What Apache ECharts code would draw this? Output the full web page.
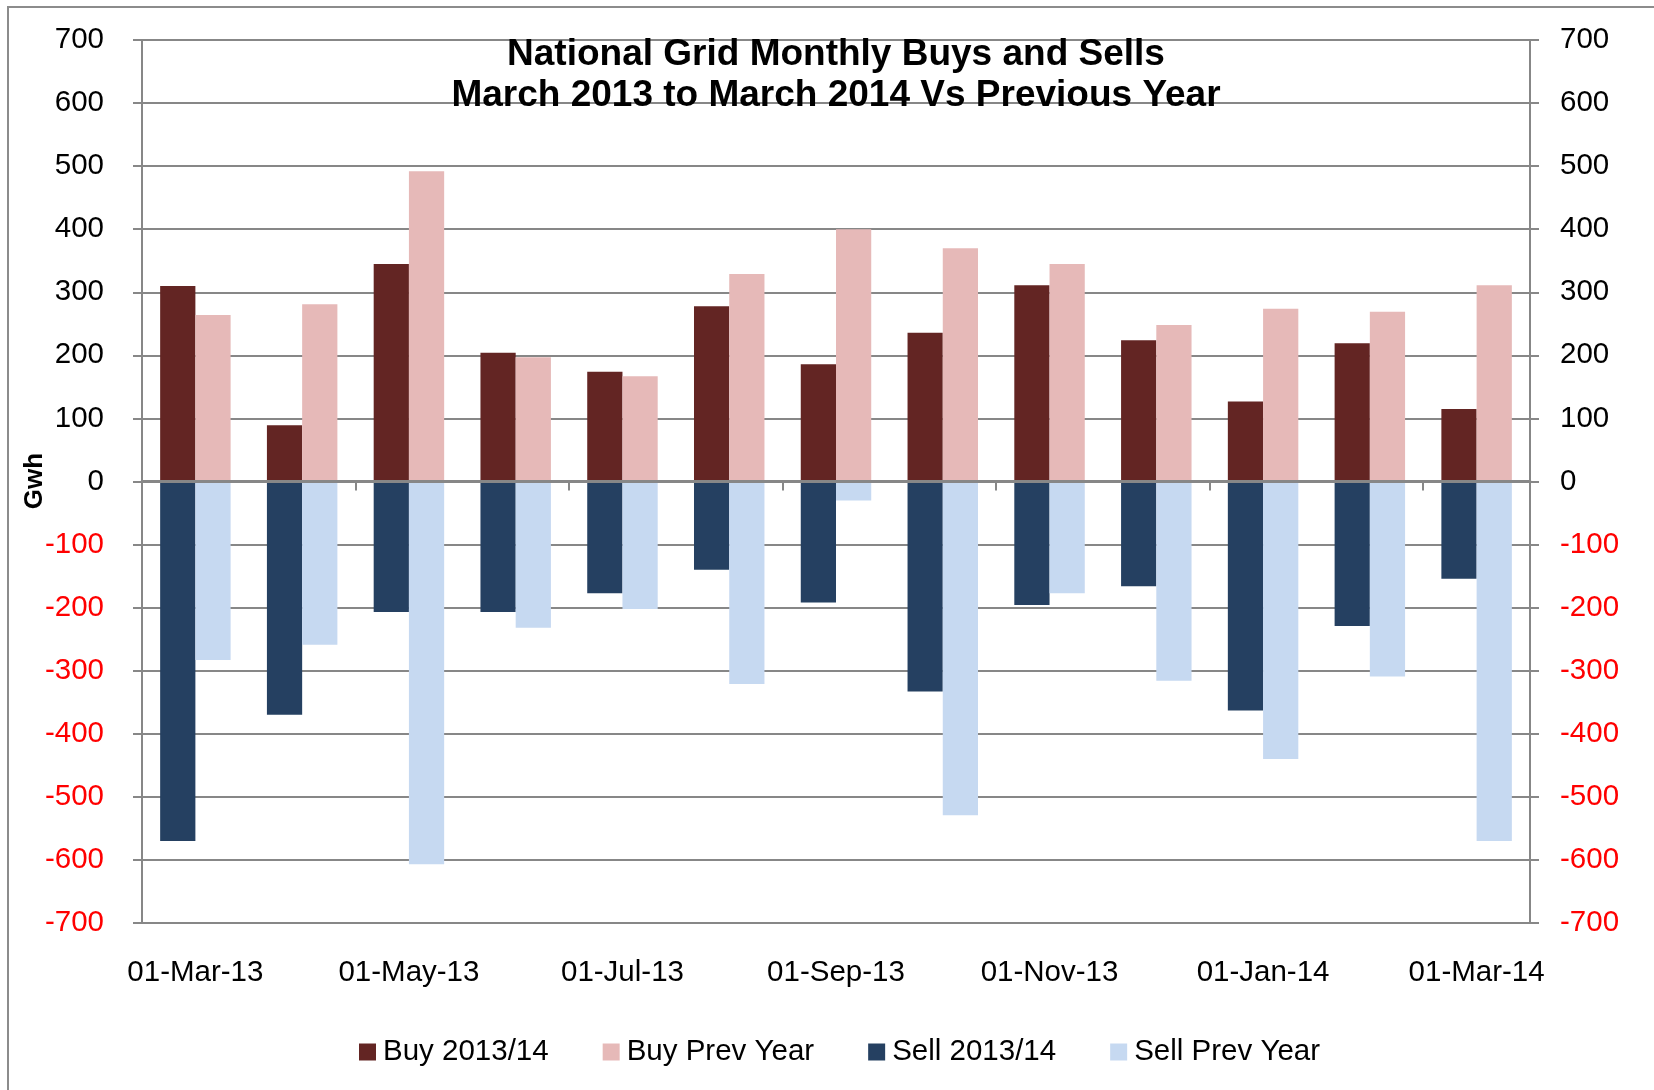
<!DOCTYPE html>
<html>
<head>
<meta charset="utf-8">
<script src="https://cdn.jsdelivr.net/npm/echarts@6/dist/echarts.min.js"></script>
<style>html,body{margin:0;padding:0;background:#fff}#c{width:1654px;height:1090px}</style>
</head>
<body>
<div id="c"></div>
<script>
var categories = ['01-Mar-13','01-Apr-13','01-May-13','01-Jun-13','01-Jul-13','01-Aug-13','01-Sep-13','01-Oct-13','01-Nov-13','01-Dec-13','01-Jan-14','01-Feb-14','01-Mar-14'];
var buyCur  = [310, 89, 345, 204, 174, 278, 186, 236, 311, 224, 127, 219, 115];
var buyPrev = [264, 281, 492, 197, 167, 329, 400, 370, 345, 248, 274, 269, 311];
var sellCur = [-570, -370, -207, -207, -177, -140, -192, -333, -196, -166, -363, -229, -154];
var sellPrev= [-283, -259, -607, -232, -202, -321, -30, -529, -177, -316, -440, -309, -570];
var seriesNames = ['Buy 2013/14', 'Buy Prev Year', 'Sell 2013/14', 'Sell Prev Year'];
var titleText = 'National Grid Monthly Buys and Sells\nMarch 2013 to March 2014 Vs Previous Year';
var yAxisName = 'Gwh';

var FONT = "'Liberation Sans', Arial, sans-serif";
var GRAY = '#878787';
function yLabelFmt(v){ return v < 0 ? '{n|' + v + '}' : '{p|' + v + '}'; }
var yRich = { p: {color:'#000', fontSize:29.5, fontFamily:FONT}, n: {color:'#ff0000', fontSize:29.5, fontFamily:FONT} };

var chart = echarts.init(document.getElementById('c'), null, {renderer:'canvas'});
chart.setOption({
  backgroundColor: '#fff',
  animation: false,
  graphic: [
    { type:'rect', shape:{x:8, y:7, width:1700, height:1200}, style:{fill:'none', stroke:'#8c8c8c', lineWidth:2}, silent:true },
    { type:'text', x:35, y:481, rotation: Math.PI/2, silent:true,
      style:{ text: yAxisName, align:'center', verticalAlign:'middle', fill:'#000', font: "bold 26px 'Liberation Sans', Arial, sans-serif" } }
  ],
  title: {
    text: titleText, left: 836, top: 34, padding: 0, textAlign: 'center',
    textStyle: { fontFamily: FONT, fontWeight: 'bold', fontSize: 37, lineHeight: 41, color: '#000' }
  },
  legend: {
    data: seriesNames, bottom: 18, left: 354, itemWidth: 17, itemHeight: 17, itemGap: 54, icon: 'rect',
    padding: 5,
    textStyle: { fontFamily: FONT, fontSize: 29.5, color: '#000', padding:[0,0,0,2] }
  },
  grid: { left: 142, right: 124, top: 40, bottom: 167 },
  xAxis: [{
    type: 'category', data: categories, position: 'bottom', boundaryGap: true,
    axisLine: { show: false, onZero: false }, axisTick: { show: false },
    axisLabel: { interval: 1, margin: 35, fontFamily: FONT, fontSize: 29.5, color: '#000' }
  }, {
    type: 'category', data: categories, position: 'top', boundaryGap: true, z: 5,
    axisLine: { show: true, onZero: true, onZeroAxisIndex: 0, lineStyle: { color: GRAY, width: 3 } },
    axisTick: { show: true, interval: 1, inside: true, length: 9, lineStyle: { color: GRAY, width: 2 } },
    axisLabel: { show: false }
  }],
  yAxis: [{
    type: 'value', min: -700, max: 700, interval: 100, position: 'left',
    axisLine: { show: true, lineStyle: { color: GRAY, width: 2 } },
    axisTick: { show: true, length: 9, lineStyle: { color: GRAY, width: 2 } },
    splitLine: { show: true, lineStyle: { color: GRAY, width: 2 } },
    axisLabel: { margin: 38, formatter: yLabelFmt, rich: yRich }
  }, {
    type: 'value', min: -700, max: 700, interval: 100, position: 'right',
    axisLine: { show: true, lineStyle: { color: GRAY, width: 2 } },
    axisTick: { show: true, length: 9, lineStyle: { color: GRAY, width: 2 } },
    splitLine: { show: false },
    axisLabel: { margin: 30, formatter: yLabelFmt, rich: yRich }
  }],
  series: [
    { name: seriesNames[0], type: 'bar', stack: 'cur',  data: buyCur,  barWidth: '33%', barGap: '0%', itemStyle: { color: '#632523' } },
    { name: seriesNames[1], type: 'bar', stack: 'prev', data: buyPrev, barWidth: '33%', barGap: '0%', itemStyle: { color: '#e6b9b8' } },
    { name: seriesNames[2], type: 'bar', stack: 'cur',  data: sellCur, barWidth: '33%', barGap: '0%', itemStyle: { color: '#254061' } },
    { name: seriesNames[3], type: 'bar', stack: 'prev', data: sellPrev,barWidth: '33%', barGap: '0%', itemStyle: { color: '#c6d9f1' } }
  ]
});
</script>
</body>
</html>
